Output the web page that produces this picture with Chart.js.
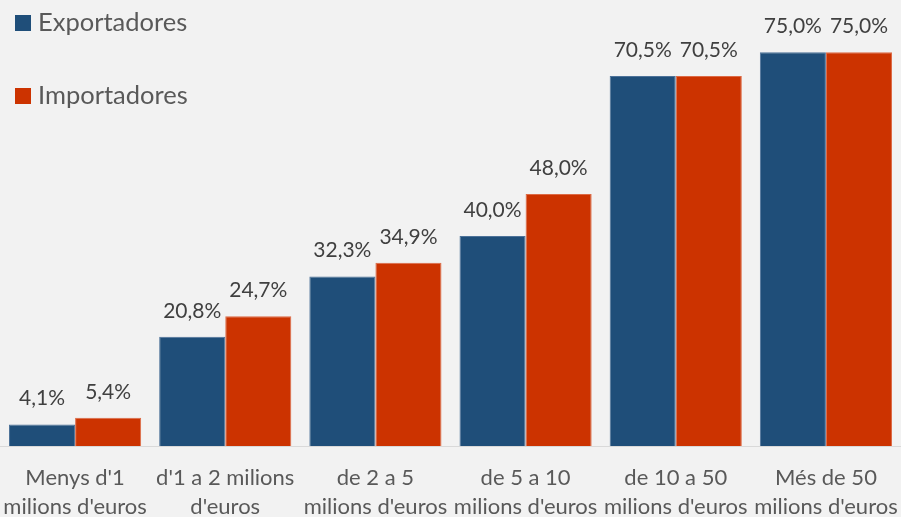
<!DOCTYPE html>
<html>
<head>
<meta charset="utf-8">
<script src="https://cdn.jsdelivr.net/npm/chart.js@4/dist/chart.umd.min.js"></script>
<style>
  html, body { margin: 0; padding: 0; background: #f2f2f2; }
  #wrap { width: 901px; height: 517px; }
</style>
</head>
<body>
<div id="wrap"><canvas id="chart"></canvas></div>
<script>
// categories (two-line labels) and series values (%)
var categories = [
    ["Menys d'1", "milions d'euros"],
    ["d'1 a 2 milions", "d'euros"],
    ["de 2 a 5", "milions d'euros"],
    ["de 5 a 10", "milions d'euros"],
    ["de 10 a 50", "milions d'euros"],
    ["Més de 50", "milions d'euros"]
];
var exportadores = [4.1, 20.8, 32.3, 40.0, 70.5, 75.0];
var importadores = [5.4, 24.7, 34.9, 48.0, 70.5, 75.0];

var FONT = 'Lato, "Noto Sans", sans-serif';

function pct(v) {
    return v.toFixed(1).replace('.', ',') + '%';
}

// value labels above each bar
var valueLabels = {
    id: 'valueLabels',
    afterDatasetsDraw: function(chart) {
        var ctx = chart.ctx;
        ctx.save();
        ctx.font = '21px ' + FONT;
        ctx.fillStyle = '#404040';
        ctx.textAlign = 'center';
        ctx.textBaseline = 'alphabetic';
        chart.data.datasets.forEach(function(ds, i) {
            chart.getDatasetMeta(i).data.forEach(function(bar, j) {
                ctx.fillText(pct(ds.data[j]), bar.x, bar.y - 19);
            });
        });
        ctx.restore();
    }
};

// legend in the top-left corner, stacked
var cornerLegend = {
    id: 'cornerLegend',
    afterDraw: function(chart) {
        var ctx = chart.ctx;
        ctx.save();
        ctx.font = '25.5px ' + FONT;
        ctx.textBaseline = 'middle';
        chart.data.datasets.forEach(function(ds, i) {
            var y = 23 + i * 73;
            ctx.fillStyle = ds.backgroundColor;
            ctx.fillRect(15, y - 8, 16, 16);
            ctx.fillStyle = '#595959';
            ctx.fillText(ds.label, 38, y);
        });
        ctx.restore();
    }
};

new Chart(document.getElementById('chart').getContext('2d'), {
    type: 'bar',
    data: {
        labels: categories,
        datasets: [{
            label: 'Exportadores',
            data: exportadores,
            backgroundColor: '#1f4e79',
            borderColor: '#4d7299',
            borderWidth: 1,
            categoryPercentage: 0.88,
            barPercentage: 1.0
        }, {
            label: 'Importadores',
            data: importadores,
            backgroundColor: '#cc3300',
            borderColor: '#dd6a45',
            borderWidth: 1,
            categoryPercentage: 0.88,
            barPercentage: 1.0
        }]
    },
    options: {
        responsive: true,
        maintainAspectRatio: false,
        animation: false,
        layout: { padding: { top: 26, left: 0, right: 0, bottom: 0 } },
        plugins: {
            legend: { display: false },
            tooltip: { enabled: false }
        },
        scales: {
            x: {
                grid: { display: false, drawTicks: false },
                border: { display: true, color: '#d9d9d9', width: 1 },
                ticks: {
                    color: '#595959',
                    padding: 17,
                    maxRotation: 0,
                    autoSkip: false,
                    font: { family: FONT, size: 22, lineHeight: 1.32 }
                },
                afterFit: function(scale) {
                    scale.height = 71;
                    scale.paddingLeft = 0;
                    scale.paddingRight = 0;
                }
            },
            y: {
                display: false,
                min: 0,
                max: 80
            }
        }
    },
    plugins: [valueLabels, cornerLegend]
});
</script>
</body>
</html>
